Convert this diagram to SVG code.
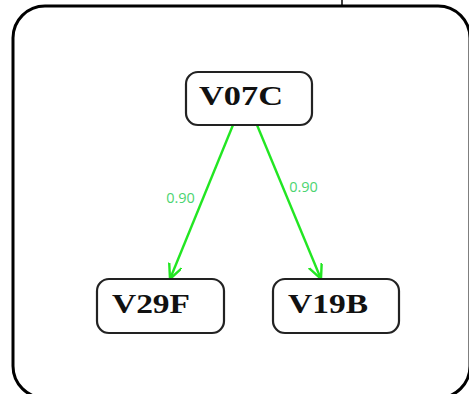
<svg xmlns="http://www.w3.org/2000/svg" width="469" height="394" viewBox="0 0 469 394">
<style>
.node rect{fill:#fff;stroke:#222;stroke-width:2.2}
.node text{font-family:"Liberation Serif","Times New Roman",serif;font-weight:bold;font-size:27px;fill:#111}
.edge{stroke:#22e622;stroke-width:2.4;fill:none}
.lbl{font-family:"Open Sans","DejaVu Sans",sans-serif;font-size:14.5px;fill:#4cd470}
</style>
<defs>
<marker id="arr" markerUnits="userSpaceOnUse" markerWidth="20" markerHeight="20" refX="15" refY="7" orient="auto">
<path d="M0,0 L15,7 L0,14" fill="none" stroke="#22e622" stroke-width="2.4"/>
</marker>
</defs>
<rect x="13" y="6" width="457" height="392" rx="32" fill="#fff" stroke="#000" stroke-width="3"/>
<line x1="342" y1="0" x2="342" y2="5" stroke="#000" stroke-width="1.5"/>
<g id="connectors">
<line class="edge" x1="233" y1="125" x2="170" y2="279" marker-end="url(#arr)"/>
<line class="edge" x1="257" y1="125" x2="321" y2="279" marker-end="url(#arr)"/>
<text class="lbl" x="180.5" y="203" text-anchor="middle">0.90</text>
<text class="lbl" x="303.5" y="192" text-anchor="middle">0.90</text>
</g>
<g id="V07C" class="node">
<rect x="186" y="72" width="126" height="53" rx="12"/>
<text x="199" y="105" textLength="84" lengthAdjust="spacingAndGlyphs">V07C</text>
</g>
<g id="V29F" class="node">
<rect x="97" y="279" width="127" height="54" rx="12"/>
<text x="112" y="313" textLength="78" lengthAdjust="spacingAndGlyphs">V29F</text>
</g>
<g id="V19B" class="node">
<rect x="273" y="279" width="126" height="54" rx="12"/>
<text x="288" y="313" textLength="80" lengthAdjust="spacingAndGlyphs">V19B</text>
</g>
</svg>
